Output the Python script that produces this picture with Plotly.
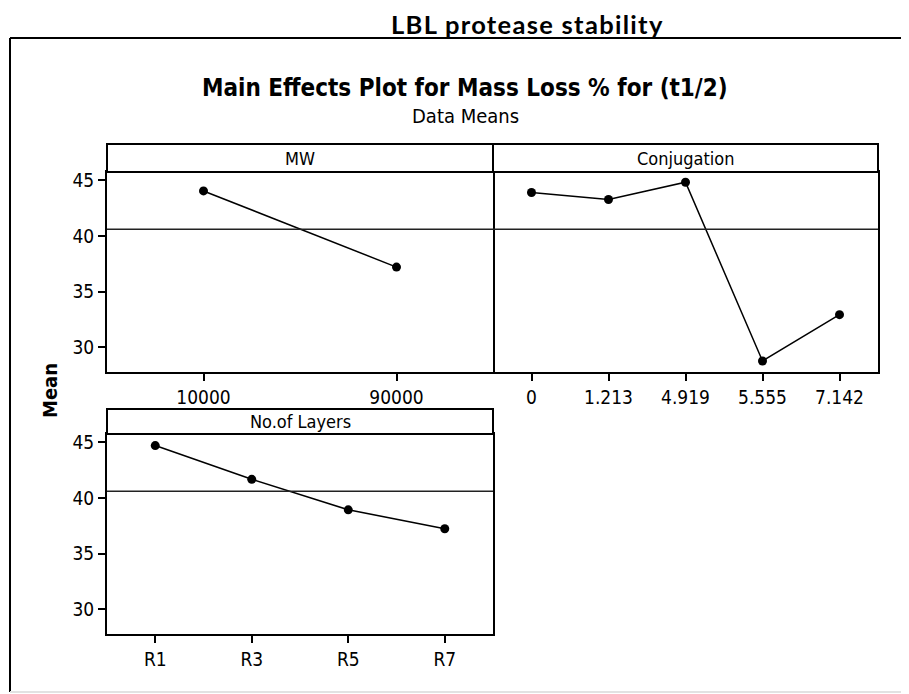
""" Main effects plot for mass loss % (t1/2), LBL protease stability. """

import plotly.graph_objects as go

# the page body adds an 8px margin, so the figure is drawn 8px smaller and shifted
OFF = 8
W, H = 909 - OFF, 694 - OFF

mw_levels = ["10000", "90000"]
mw_means = [44.04, 37.2]

conj_levels = ["0", "1.213", "4.919", "5.555", "7.142"]
conj_means = [43.9, 43.27, 44.82, 28.77, 32.93]

layer_levels = ["R1", "R3", "R5", "R7"]
layer_means = [44.7, 41.67, 38.93, 37.23]

overall_mean = 40.6
y_ticks = [30, 35, 40, 45]
y_range = [27.78, 45.74]

FONT = "DejaVu Sans Condensed, DejaVu Sans, sans-serif"


def fx(p):
    return (p - OFF) / W


def fy(p):
    return 1 - (p - OFF) / H


fig = go.Figure()

panels = [
    ("x", "y", mw_levels, mw_means),
    ("x2", "y2", conj_levels, conj_means),
    ("x3", "y3", layer_levels, layer_means),
]
for xa, ya, levels, means in panels:
    fig.add_trace(
        go.Scatter(
            x=levels,
            y=means,
            xaxis=xa,
            yaxis=ya,
            mode="lines+markers",
            line=dict(color="black", width=1.5),
            marker=dict(color="black", size=9),
            showlegend=False,
        )
    )

xbase = dict(
    type="category",
    showline=True,
    mirror=True,
    linecolor="black",
    linewidth=2,
    ticks="outside",
    ticklen=7,
    tickwidth=1.5,
    tickcolor="black",
    showgrid=False,
    zeroline=False,
    automargin=False,
    tickfont=dict(family=FONT, size=19, color="black"),
)
ybase = dict(
    range=y_range,
    tickvals=y_ticks,
    showline=True,
    mirror=True,
    linecolor="black",
    linewidth=2,
    ticks="outside",
    ticklen=7,
    tickwidth=1.5,
    tickcolor="black",
    showgrid=False,
    zeroline=False,
    automargin=False,
    tickfont=dict(family=FONT, size=19, color="black"),
)

fig.update_layout(
    width=W,
    height=H,
    margin=dict(l=0, r=0, t=0, b=0),
    paper_bgcolor="white",
    plot_bgcolor="white",
    xaxis=dict(xbase, domain=[fx(107), fx(493)], range=[-0.5, 1.5], anchor="y"),
    yaxis=dict(ybase, domain=[fy(372), fy(172)], anchor="x"),
    xaxis2=dict(xbase, domain=[fx(493), fx(878)], range=[-0.5, 4.5], anchor="y2"),
    yaxis2=dict(ybase, domain=[fy(372), fy(172)], anchor="x2", side="right",
                mirror=False, showticklabels=False, ticks=""),
    xaxis3=dict(xbase, domain=[fx(107), fx(493)], range=[-0.5, 3.5], anchor="y3"),
    yaxis3=dict(ybase, domain=[fy(634), fy(434)], anchor="x3"),
)

# overall mean reference lines
for xa, ya in [("x", "y"), ("x2", "y2"), ("x3", "y3")]:
    fig.add_shape(
        type="line",
        xref=f"{xa} domain",
        yref=ya,
        x0=0,
        x1=1,
        y0=overall_mean,
        y1=overall_mean,
        line=dict(color="#222222", width=1.5),
    )

# panel headers
headers = [
    ("MW", 107, 493, 144, 172),
    ("Conjugation", 493, 878, 144, 172),
    ("No.of Layers", 107, 493, 409, 434),
]
for label, x0, x1, y0, y1 in headers:
    fig.add_shape(
        type="rect",
        xref="paper",
        yref="paper",
        x0=fx(x0),
        x1=fx(x1),
        y0=fy(y1),
        y1=fy(y0),
        line=dict(color="black", width=2),
        fillcolor="white",
    )
    fig.add_annotation(
        text=label,
        xref="paper",
        yref="paper",
        x=fx((x0 + x1) / 2),
        y=fy((y0 + y1) / 2),
        showarrow=False,
        xanchor="center",
        yanchor="middle",
        font=dict(family=FONT, size=18, color="black"),
    )

# outer frame
fig.add_shape(type="line", xref="paper", yref="paper", x0=fx(10), x1=1, y0=fy(38), y1=fy(38),
              line=dict(color="black", width=2))
fig.add_shape(type="line", xref="paper", yref="paper", x0=fx(10), x1=fx(10), y0=fy(38), y1=fy(692),
              line=dict(color="black", width=2))
fig.add_shape(type="line", xref="paper", yref="paper", x0=fx(10), x1=1, y0=fy(692), y1=fy(692),
              line=dict(color="#e2e2e2", width=2))

# titles
fig.add_annotation(
    text='<span style="letter-spacing:1.3px"><b>LBL protease stability</b></span>',
    xref="paper", yref="paper", x=fx(527), y=1,
    showarrow=False, xanchor="center", yanchor="top", borderpad=0,
    font=dict(family="Lato, Open Sans, sans-serif", size=25.5, color="black"),
)
fig.add_annotation(
    text="<b>Main Effects Plot for Mass Loss % for (t1/2)</b>",
    xref="paper", yref="paper", x=fx(465), y=fy(88),
    showarrow=False, xanchor="center", yanchor="middle",
    font=dict(family=FONT, size=24, color="black"),
)
fig.add_annotation(
    text="Data Means",
    xref="paper", yref="paper", x=fx(465), y=fy(116),
    showarrow=False, xanchor="center", yanchor="middle",
    font=dict(family=FONT, size=20, color="black"),
)
fig.add_annotation(
    text="<b>Mean</b>",
    xref="paper", yref="paper", x=fx(50), y=fy(391),
    showarrow=False, xanchor="center", yanchor="middle", textangle=-90,
    font=dict(family=FONT, size=20, color="black"),
)

fig.write_html("out.html")
